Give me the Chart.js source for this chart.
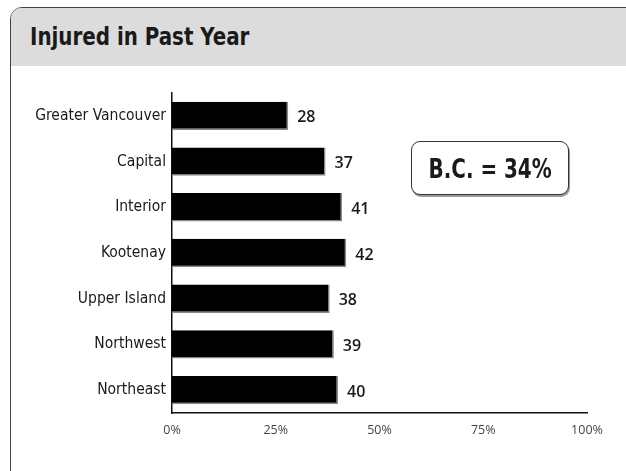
<!DOCTYPE html>
<html>
<head>
<meta charset="utf-8">
<script src="https://cdn.jsdelivr.net/npm/chart.js@4"></script>
<style>
    body { margin: 0; background: #fff; width: 626px; height: 471px; overflow: hidden; position: relative; }
    .card {
        position: absolute; left: 10px; top: 7px; width: 640px; height: 500px;
        border: 1.5px solid #444; border-radius: 12px 0 0 0; box-sizing: border-box;
    }
    .header {
        position: absolute; left: 0; top: 0; right: 0; height: 58px;
        background: #dcdcdc; border-radius: 10px 0 0 0;
    }
    .header h1 {
        margin: 0; position: absolute; left: 19px; top: 15px;
        font-family: "DejaVu Sans Condensed", "Liberation Sans Narrow", sans-serif;
        font-weight: bold; font-size: 24px; color: #1a1a1a;
        transform: scaleX(0.92); transform-origin: left center;
    }
    #chart-wrap { position: absolute; left: 0; top: 0; width: 626px; height: 471px; }
    .bc-box {
        position: absolute; left: 411px; top: 141px; width: 158px; height: 54px;
        border: 1.2px solid #333; border-radius: 9px; box-sizing: border-box; background: #fff;
        box-shadow: 1px 2px 0 #999;
        display: flex; align-items: center; justify-content: center;
    }
    .bc-box span {
        font-family: "DejaVu Sans Condensed", "Liberation Sans Narrow", sans-serif;
        font-weight: bold; font-size: 27px; color: #1a1a1a;
        transform: scaleX(0.82); white-space: nowrap;
    }
</style>
</head>
<body>
<div class="card"><div class="header"><h1>Injured in Past Year</h1></div></div>
<div id="chart-wrap"><canvas id="chart" width="626" height="471"></canvas></div>
<div class="bc-box"><span>B.C. = 34%</span></div>

<script>
// Regions and share injured in past year (%)
const regions = ['Greater Vancouver', 'Capital', 'Interior', 'Kootenay', 'Upper Island', 'Northwest', 'Northeast'];
const injured = [28, 37, 41, 42, 38, 39, 40];
const xTicks = [0, 25, 50, 75, 100];

const narrow = '"DejaVu Sans Condensed", "Liberation Sans Narrow", sans-serif';
const humanist = '"Open Sans", "Noto Sans", sans-serif';

// Value labels to the right of each bar
const valueLabels = {
    id: 'valueLabels',
    afterDatasetsDraw(chart) {
        const ctx = chart.ctx;
        const meta = chart.getDatasetMeta(0);
        ctx.save();
        ctx.font = '600 16px ' + humanist;
        ctx.fillStyle = '#1a1a1a';
        ctx.textAlign = 'left';
        ctx.textBaseline = 'middle';
        meta.data.forEach((bar, i) => {
            ctx.fillText(injured[i], bar.x + 9, bar.y + 2);
        });
        ctx.restore();
    }
};

new Chart(document.getElementById('chart'), {
    type: 'bar',
    data: {
        labels: regions,
        datasets: [{
            data: injured,
            backgroundColor: '#000',
            borderColor: '#8a8a8a',
            borderWidth: { top: 0, left: 0, right: 1.5, bottom: 1.5 },
            borderSkipped: false,
            barPercentage: 0.62,
            categoryPercentage: 1
        }]
    },
    options: {
        indexAxis: 'y',
        responsive: false,
        animation: false,
        layout: { padding: { top: 93, right: 39, left: 0, bottom: 0 } },
        plugins: { legend: { display: false }, tooltip: { enabled: false } },
        scales: {
            x: {
                min: 0,
                max: 100,
                afterBuildTicks(scale) { scale.ticks = xTicks.map(v => ({ value: v })); },
                afterFit(scale) { scale.height = 58; },
                grid: { display: false, drawTicks: false },
                border: { display: true, color: '#111', width: 1.5 },
                ticks: {
                    padding: 10,
                    color: '#444',
                    font: { family: humanist, size: 12.5 },
                    callback: v => v + '%'
                }
            },
            y: {
                afterFit(scale) { scale.width = 172; },
                grid: { display: false, drawTicks: false },
                border: { display: true, color: '#111', width: 1.5 },
                ticks: {
                    padding: 6,
                    color: '#1a1a1a',
                    font: { family: narrow, size: 15.5 }
                }
            }
        }
    },
    plugins: [valueLabels]
});
</script>
</body>
</html>
